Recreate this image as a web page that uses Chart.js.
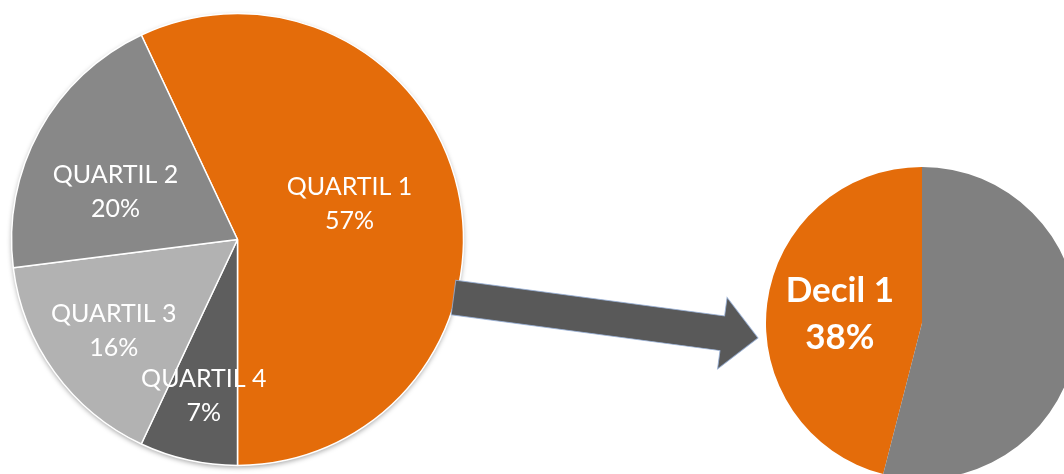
<!DOCTYPE html>
<html>
<head>
<meta charset="utf-8">
<script src="https://cdn.jsdelivr.net/npm/chart.js@4.4.1/dist/chart.umd.min.js"></script>
<style>
  html, body { margin: 0; padding: 0; background: #fff; }
  body { width: 1064px; height: 474px; overflow: hidden; position: relative; }
  #quartilWrap { position: absolute; left: 0; top: 0; width: 475px; height: 479px; }
  #decilWrap { position: absolute; left: 752px; top: 153px; width: 340px; height: 340px; }
  #arrow { position: absolute; left: 0; top: 0; pointer-events: none; }
</style>
</head>
<body>
<div id="quartilWrap"><canvas id="quartilChart"></canvas></div>
<div id="decilWrap"><canvas id="decilChart"></canvas></div>
<canvas id="arrow" width="1064" height="474"></canvas>

<script>
// quartis, na ordem em que aparecem no sentido horario
const quartilLabels = ["QUARTIL 1", "QUARTIL 4", "QUARTIL 3", "QUARTIL 2"];
const quartilValues = [57, 7, 16, 20];
const quartilColors = ["#E46C0A", "#5E5E5E", "#B2B2B2", "#888888"];

// decil 1 dentro do quartil 1
const decilLabels = ["Decil 1", ""];
const decilValues = [46, 54];
const decilText = ["38%", ""];
const decilColors = ["#E46C0A", "#808080"];

// posicao dos rotulos: fracao do raio e ajuste de angulo (graus)
const quartilLabelPos = [[0.52, -5], [0.71, -0.5], [0.68, -0.4], [0.58, -7.4]];
const decilLabelPos = [[0.53, -1], [0, 0]];

const sliceLabels = {
    id: "sliceLabels",
    afterDatasetsDraw(chart, args, opts) {
        const ctx = chart.ctx;
        const meta = chart.getDatasetMeta(0);
        ctx.save();
        ctx.fillStyle = "#fff";
        ctx.textAlign = "center";
        ctx.textBaseline = "middle";
        ctx.font = opts.font;
        meta.data.forEach((arc, i) => {
            const lines = opts.lines(i);
            if (!lines[0]) return;
            const p = arc.getProps(["x", "y", "startAngle", "endAngle", "outerRadius"], true);
            const pos = opts.pos[i];
            const mid = (p.startAngle + p.endAngle) / 2 + pos[1] * Math.PI / 180;
            const cx = p.x + Math.cos(mid) * p.outerRadius * pos[0];
            const cy = p.y + Math.sin(mid) * p.outerRadius * pos[0];
            ctx.fillText(lines[0], cx, cy - opts.lineHeight / 2);
            ctx.fillText(lines[1], cx, cy + opts.lineHeight / 2);
        });
        ctx.restore();
    }
};

const pieShadow = {
    id: "pieShadow",
    beforeDatasetsDraw(chart, args, opts) {
        if (!opts.enabled) return;
        const arc = chart.getDatasetMeta(0).data[0];
        const p = arc.getProps(["x", "y", "outerRadius"], true);
        const ctx = chart.ctx;
        ctx.save();
        ctx.shadowColor = "rgba(0,0,0,0.35)";
        ctx.shadowBlur = 5;
        ctx.shadowOffsetY = 2;
        ctx.fillStyle = "#fff";
        ctx.beginPath();
        ctx.arc(p.x, p.y, p.outerRadius, 0, Math.PI * 2);
        ctx.fill();
        ctx.restore();
    }
};

function createPie(canvas, labels, values, colors, radius, rotation, border, labelOpts, shadow) {
    return new Chart(canvas, {
        type: "pie",
        data: {
            labels: labels,
            datasets: [{
                data: values,
                backgroundColor: colors,
                borderColor: "#ffffff",
                borderWidth: border,
                hoverOffset: 0
            }]
        },
        options: {
            responsive: true,
            maintainAspectRatio: false,
            animation: false,
            events: [],
            rotation: rotation,
            radius: radius,
            layout: { padding: 0 },
            plugins: {
                legend: { display: false },
                tooltip: { enabled: false },
                sliceLabels: labelOpts,
                pieShadow: { enabled: shadow }
            }
        },
        plugins: [pieShadow, sliceLabels]
    });
}

const quartilTotal = quartilValues.reduce((a, b) => a + b, 0);
const decilTotal = decilValues.reduce((a, b) => a + b, 0);

createPie(
    document.getElementById("quartilChart"),
    quartilLabels, quartilValues, quartilColors,
    226, 180 - quartilValues[0] / quartilTotal * 360, 1.5,
    {
        font: "25px Lato",
        lineHeight: 34,
        pos: quartilLabelPos,
        lines: i => [quartilLabels[i], Math.round(quartilValues[i] / quartilTotal * 100) + "%"]
    },
    true
);

createPie(
    document.getElementById("decilChart"),
    decilLabels, decilValues, decilColors,
    156, 360 - decilValues[0] / decilTotal * 360, 0,
    {
        font: "bold 35px Lato",
        lineHeight: 47,
        pos: decilLabelPos,
        lines: i => [decilLabels[i], decilText[i]]
    },
    false
);

// seta entre os dois graficos
function drawArrow() {
    const ctx = document.getElementById("arrow").getContext("2d");
    const x0 = 453.5, y0 = 297.5, x1 = 758, y1 = 338;
    const len = Math.hypot(x1 - x0, y1 - y0);
    const ang = Math.atan2(y1 - y0, x1 - x0);
    const shaft = 17.5, head = 36, headLen = 36;
    ctx.save();
    ctx.translate(x0, y0);
    ctx.rotate(ang);
    ctx.beginPath();
    ctx.moveTo(0, -shaft);
    ctx.lineTo(len - headLen, -shaft);
    ctx.lineTo(len - headLen, -head);
    ctx.lineTo(len, 0);
    ctx.lineTo(len - headLen, head);
    ctx.lineTo(len - headLen, shaft);
    ctx.lineTo(0, shaft);
    ctx.closePath();
    ctx.fillStyle = "#595959";
    ctx.fill();
    ctx.strokeStyle = "rgba(150,175,215,0.8)";
    ctx.lineWidth = 1;
    ctx.stroke();
    ctx.restore();
}
drawArrow();
</script>
</body>
</html>
